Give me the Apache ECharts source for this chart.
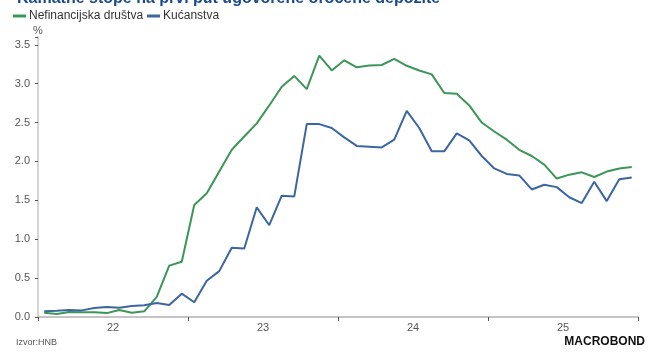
<!DOCTYPE html>
<html>
<head>
<meta charset="utf-8">
<script src="https://cdn.jsdelivr.net/npm/echarts@6/dist/echarts.min.js"></script>
<style>
  html, body { margin: 0; padding: 0; background: #fff; }
  #chart { width: 653px; height: 354px; }
</style>
</head>
<body>
<div id="chart"></div>
<script>
// Monthly observations, Jan 2022 – Dec 2025
const months = [
  '2022-01','2022-02','2022-03','2022-04','2022-05','2022-06','2022-07','2022-08','2022-09','2022-10','2022-11','2022-12',
  '2023-01','2023-02','2023-03','2023-04','2023-05','2023-06','2023-07','2023-08','2023-09','2023-10','2023-11','2023-12',
  '2024-01','2024-02','2024-03','2024-04','2024-05','2024-06','2024-07','2024-08','2024-09','2024-10','2024-11','2024-12',
  '2025-01','2025-02','2025-03','2025-04','2025-05','2025-06','2025-07','2025-08','2025-09','2025-10','2025-11','2025-12'
];

const yearLabels = ['22', '23', '24', '25'];

// Nefinancijska društva (%)
const corporates = [
  0.055, 0.04, 0.064, 0.06, 0.06, 0.05, 0.09, 0.055, 0.073, 0.26, 0.66, 0.71,
  1.44, 1.59, 1.87, 2.15, 2.32, 2.49, 2.72, 2.96, 3.10, 2.93, 3.36, 3.17,
  3.30, 3.21, 3.235, 3.24, 3.32, 3.23, 3.17, 3.12, 2.88, 2.87, 2.72, 2.50,
  2.385, 2.28, 2.15, 2.07, 1.96, 1.78, 1.83, 1.86, 1.80, 1.87, 1.91, 1.93
];

// Kućanstva (%)
const households = [
  0.073, 0.08, 0.09, 0.085, 0.115, 0.128, 0.12, 0.14, 0.15, 0.18, 0.155, 0.30,
  0.19, 0.465, 0.59, 0.89, 0.88, 1.41, 1.18, 1.56, 1.55, 2.48, 2.48, 2.43,
  2.31, 2.20, 2.19, 2.18, 2.28, 2.65, 2.43, 2.13, 2.13, 2.36, 2.27, 2.07,
  1.91, 1.84, 1.82, 1.64, 1.70, 1.67, 1.54, 1.465, 1.74, 1.49, 1.77, 1.795
];

const GREEN = '#3c9658';
const BLUE = '#3b66a0';
const FONT = '"Liberation Sans", Arial, sans-serif';

// each month sits in the middle of its slot on a 0..48 month scale
const toPoints = vals => months.map((m, i) => [i + 0.5, vals[i]]);

const chart = echarts.init(document.getElementById('chart'), null, { renderer: 'canvas' });

chart.setOption({
  animation: false,
  textStyle: { fontFamily: FONT },
  title: {
    text: 'Kamatne stope na prvi put ugovorene oročene depozite',
    left: 12,
    top: -14,
    textStyle: { fontFamily: FONT, fontSize: 16, fontWeight: 'bold', color: '#1b4a8c' }
  },
  legend: {
    left: 8,
    top: 5,
    itemWidth: 13,
    itemHeight: 3,
    itemGap: 4,
    icon: 'rect',
    textStyle: { fontFamily: FONT, fontSize: 12, color: '#333', padding: [0, 0, 0, -2] },
    data: ['Nefinancijska društva', 'Kućanstva']
  },
  grid: { left: 38, right: 15, top: 37, bottom: 37, containLabel: false },
  xAxis: [
    {
      type: 'value',
      min: 0, max: 48, interval: 12,
      position: 'bottom',
      axisLine: { show: true, lineStyle: { color: '#c4c4c4', width: 2 } },
      axisTick: { show: true, length: 4, lineStyle: { color: '#555', width: 1 } },
      axisLabel: { show: false },
      splitLine: { show: false }
    },
    {
      type: 'value',
      min: 0, max: 48, interval: 6,
      position: 'bottom',
      axisLine: { show: false },
      axisTick: { show: false },
      splitLine: { show: false },
      axisLabel: {
        show: true,
        margin: 5,
        fontFamily: FONT,
        fontSize: 11,
        color: '#555',
        formatter: v => (v % 12 === 6 ? yearLabels[(v - 6) / 12] : '')
      }
    }
  ],
  yAxis: {
    type: 'value',
    min: 0, max: 3.6, interval: 0.5,
    name: '%',
    nameLocation: 'end',
    nameGap: 1,
    nameTextStyle: { fontFamily: FONT, fontSize: 11, color: '#555', align: 'center' },
    axisLine: { show: true, lineStyle: { color: '#d4d4d4', width: 2 } },
    axisTick: { show: true, length: 3, lineStyle: { color: '#555', width: 1 } },
    axisLabel: {
      fontFamily: FONT,
      fontSize: 11,
      color: '#555',
      margin: 8,
      formatter: v => (Math.abs(v * 2 - Math.round(v * 2)) < 1e-6 ? v.toFixed(1) : '')
    },
    splitLine: { show: false }
  },
  series: [
    {
      name: 'Nefinancijska društva',
      type: 'line',
      xAxisIndex: 0,
      data: toPoints(corporates),
      showSymbol: false,
      lineStyle: { color: GREEN, width: 2 },
      itemStyle: { color: GREEN }
    },
    {
      name: 'Kućanstva',
      type: 'line',
      xAxisIndex: 0,
      data: toPoints(households),
      showSymbol: false,
      lineStyle: { color: BLUE, width: 2 },
      itemStyle: { color: BLUE }
    }
  ],
  graphic: [
    {
      type: 'text',
      left: 16,
      top: 338,
      style: { text: 'Izvor:HNB', fontFamily: FONT, fontSize: 9, fill: '#555' }
    },
    {
      type: 'text',
      right: 8,
      top: 336,
      style: { text: 'MACROBOND', fontFamily: FONT, fontSize: 12, fontWeight: 'bold', fill: '#111' }
    }
  ]
});
</script>
</body>
</html>
